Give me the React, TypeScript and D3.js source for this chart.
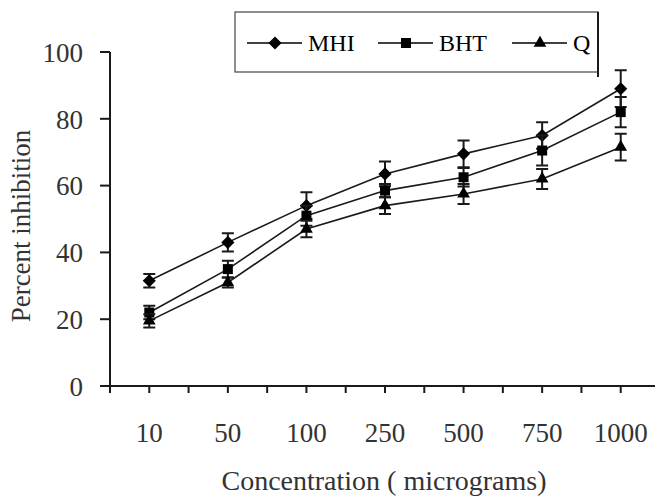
import React, { useEffect, useRef } from "react";
import * as d3 from "d3";

// data
const concentrations = ["10", "50", "100", "250", "500", "750", "1000"];
const mhiValues = [31.5, 43, 54, 63.5, 69.5, 75, 89];
const mhiErrors = [2, 2.7, 4, 3.7, 4, 4, 5.5];
const bhtValues = [22, 35, 51, 58.5, 62.5, 70.5, 82];
const bhtErrors = [2, 2.5, 3, 2, 2.8, 4.5, 4.5];
const qValues = [19.5, 31, 47, 54, 57.5, 62, 71.5];
const qErrors = [2, 1.5, 2.5, 2.5, 3, 3, 4];
const yTicks = [0, 20, 40, 60, 80, 100];
const seriesNames = ["MHI", "BHT", "Q"];

const fontFamily = "Liberation Serif";
const ink = "#1a1a1a";

const App = () => {
  const svgRef = useRef<SVGSVGElement | null>(null);

  useEffect(() => {
    d3.select(svgRef.current).selectAll("*").remove();

    const width = 655;
    const height = 504;
    const plot = { left: 110, right: 660, top: 52, bottom: 386 };

    const svg = d3.select(svgRef.current).attr("width", width).attr("height", height);

    svg.append("rect").attr("width", width).attr("height", height).attr("fill", "#ffffff");

    const x = d3.scaleBand().domain(concentrations).range([plot.left, plot.right]).padding(0);
    const y = d3.scaleLinear().domain([0, 100]).range([plot.bottom, plot.top]);

    const symbols = [
      d3.symbol(d3.symbolDiamond2, 110),
      d3.symbol(d3.symbolSquare, 100),
      d3.symbol(d3.symbolTriangle, 70),
    ];

    const series = [
      { values: mhiValues, errors: mhiErrors },
      { values: bhtValues, errors: bhtErrors },
      { values: qValues, errors: qErrors },
    ];

    const cx = (c: string) => (x(c) as number) + x.bandwidth() / 2;

    // y axis
    svg.append("line")
      .attr("x1", plot.left).attr("x2", plot.left)
      .attr("y1", y(100)).attr("y2", plot.bottom)
      .attr("stroke", ink).attr("stroke-width", 2);

    svg.selectAll(".ytick")
      .data(yTicks)
      .enter()
      .append("line")
      .attr("x1", plot.left - 10).attr("x2", plot.left)
      .attr("y1", (d) => y(d)).attr("y2", (d) => y(d))
      .attr("stroke", ink).attr("stroke-width", 2);

    svg.selectAll(".ylabel")
      .data(yTicks)
      .enter()
      .append("text")
      .attr("x", 83)
      .attr("y", (d) => y(d))
      .attr("dy", "0.36em")
      .attr("text-anchor", "end")
      .attr("fill", "#333")
      .attr("font-size", 27)
      .attr("font-family", fontFamily)
      .text((d) => d);

    // x axis
    svg.append("line")
      .attr("x1", plot.left - 10).attr("x2", plot.right)
      .attr("y1", plot.bottom).attr("y2", plot.bottom)
      .attr("stroke", ink).attr("stroke-width", 2);

    // ticks at band edges and band centres
    const xTickPos: number[] = [];
    concentrations.forEach((c) => {
      xTickPos.push(x(c) as number);
      xTickPos.push(cx(c));
    });

    svg.selectAll(".xtick")
      .data(xTickPos)
      .enter()
      .append("line")
      .attr("x1", (d) => d).attr("x2", (d) => d)
      .attr("y1", plot.bottom).attr("y2", plot.bottom + 7)
      .attr("stroke", ink).attr("stroke-width", 2);

    svg.selectAll(".xlabel")
      .data(concentrations)
      .enter()
      .append("text")
      .attr("x", (d) => cx(d))
      .attr("y", 442)
      .attr("text-anchor", "middle")
      .attr("fill", "#333")
      .attr("font-size", 27)
      .attr("font-family", fontFamily)
      .text((d) => d);

    // axis titles
    svg.append("text")
      .attr("x", 384)
      .attr("y", 490)
      .attr("text-anchor", "middle")
      .attr("fill", "#333")
      .attr("font-size", 28)
      .attr("font-family", fontFamily)
      .text("Concentration ( micrograms)");

    svg.append("text")
      .attr("transform", "translate(30,226) rotate(-90)")
      .attr("text-anchor", "middle")
      .attr("fill", "#333")
      .attr("font-size", 27)
      .attr("font-family", fontFamily)
      .text("Percent inhibition");

    // series: lines, error bars, markers
    const line = d3.line<number>()
      .x((_, i) => cx(concentrations[i]))
      .y((d) => y(d));

    series.forEach((s, si) => {
      const g = svg.append("g");

      g.append("path")
        .attr("d", line(s.values))
        .attr("fill", "none")
        .attr("stroke", ink)
        .attr("stroke-width", 1.6);

      const pts = s.values.map((v, i) => ({ c: concentrations[i], v, e: s.errors[i] }));

      g.selectAll(".err")
        .data(pts)
        .enter()
        .append("path")
        .attr("d", (d) => {
          const px = cx(d.c);
          const top = y(d.v + d.e);
          const bot = y(d.v - d.e);
          return `M${px},${top}V${bot}M${px - 6},${top}H${px + 6}M${px - 6},${bot}H${px + 6}`;
        })
        .attr("fill", "none")
        .attr("stroke", ink)
        .attr("stroke-width", 2);

      g.selectAll(".mark")
        .data(pts)
        .enter()
        .append("path")
        .attr("transform", (d) => `translate(${cx(d.c)},${y(d.v)})`)
        .attr("d", symbols[si]())
        .attr("fill", "#000");
    });

    // legend
    const legend = svg.append("g");
    legend.append("rect")
      .attr("x", 235).attr("y", 12)
      .attr("width", 363).attr("height", 60)
      .attr("fill", "#fff")
      .attr("stroke", "#444")
      .attr("stroke-width", 1.2);
    legend.append("line")
      .attr("x1", 598).attr("x2", 598)
      .attr("y1", 12).attr("y2", 77)
      .attr("stroke", ink).attr("stroke-width", 2);

    const legendX = [247, 378, 512];
    const legendY = 43;
    seriesNames.forEach((name, i) => {
      const lx = legendX[i];
      legend.append("line")
        .attr("x1", lx).attr("x2", lx + 55)
        .attr("y1", legendY).attr("y2", legendY)
        .attr("stroke", "#000").attr("stroke-width", 1.6);
      legend.append("path")
        .attr("transform", `translate(${lx + 28},${legendY})`)
        .attr("d", symbols[i]())
        .attr("fill", "#000");
      legend.append("text")
        .attr("x", lx + 61)
        .attr("y", legendY)
        .attr("dy", "0.35em")
        .attr("fill", "#000")
        .attr("font-size", 24)
        .attr("font-family", fontFamily)
        .text(name);
    });
  }, []);

  return <svg ref={svgRef} style={{ position: "absolute", left: 0, top: 0 }}></svg>;
};

export default App;
